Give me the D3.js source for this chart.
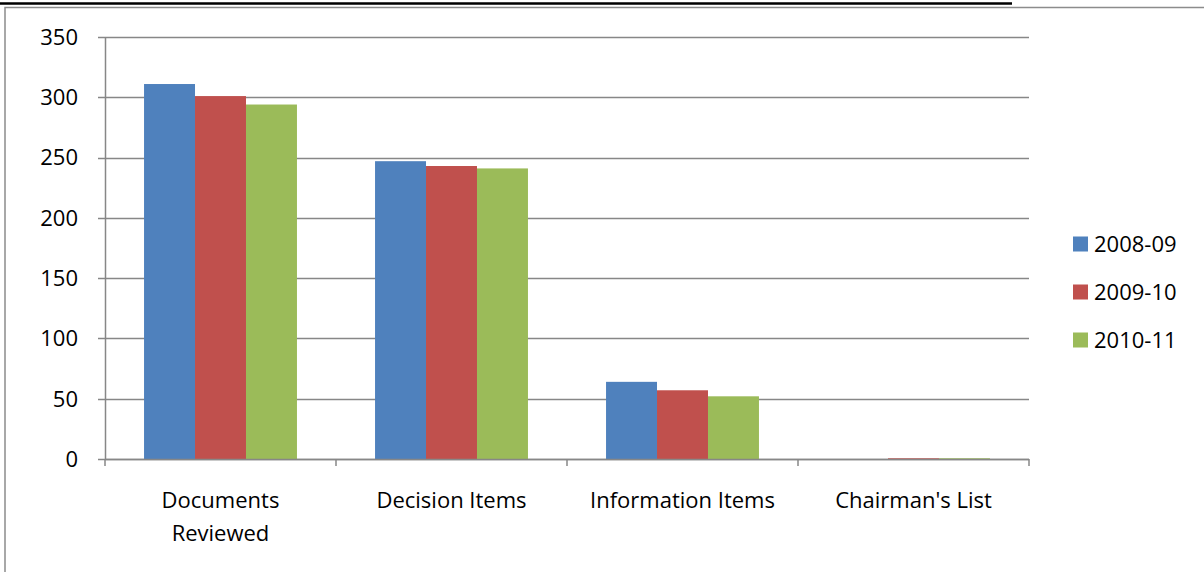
<!DOCTYPE html>
<html>
<head>
<meta charset="utf-8">
<script src="https://cdn.jsdelivr.net/npm/d3@7"></script>
<style>
  body { margin: 0; background: #fff; }
  svg { display: block; font-family: "Open Sans", Lato, sans-serif; }
</style>
</head>
<body>
<svg id="chart" width="1204" height="572"></svg>
<script>
    var categories = [["Documents", "Reviewed"], ["Decision Items"], ["Information Items"], ["Chairman's List"]];
    var seriesNames = ["2008-09", "2009-10", "2010-11"];
    var values2008 = [311, 247, 64, 0];
    var values2009 = [301, 243, 57, 0.6];
    var values2010 = [294, 241, 52, 0.6];
    var yTicks = [0, 50, 100, 150, 200, 250, 300, 350];
    var colors = ["#4f81bd", "#c0504d", "#9bbb59"];

    var svg = d3.select("#chart"),
        series = [values2008, values2009, values2010],
        plotLeft = 105, plotRight = 1029, plotTop = 37, plotBottom = 459;

    // page furniture: rule from the text above and the chart frame
    svg.append("line").attr("x1", 0).attr("x2", 1012).attr("y1", 3.5).attr("y2", 3.5)
        .attr("stroke", "#000").attr("stroke-width", 2.5);
    svg.append("rect").attr("x", 5).attr("y", 7.5).attr("width", 1300).attr("height", 700)
        .attr("fill", "none").attr("stroke", "#8c8c8c").attr("stroke-width", 1.5);

    var y = d3.scaleLinear().domain([0, 350]).range([plotBottom, plotTop]);
    var x0 = d3.scaleBand().domain(d3.range(categories.length)).range([plotLeft, plotRight])
        .paddingInner(0.338).paddingOuter(0.169);
    var x1 = d3.scaleBand().domain(d3.range(series.length)).range([0, x0.bandwidth()]);

    // gridlines
    svg.append("g").selectAll("line").data(yTicks).enter().append("line")
        .attr("x1", plotLeft - 7).attr("x2", plotRight)
        .attr("y1", function (d) { return Math.round(y(d)) + 0.5; })
        .attr("y2", function (d) { return Math.round(y(d)) + 0.5; })
        .attr("stroke", "#878787").attr("stroke-width", 1.5);

    // bars
    var groups = svg.append("g").selectAll("g").data(categories).enter().append("g")
        .attr("transform", function (d, i) { return "translate(" + x0(i) + ",0)"; });
    groups.selectAll("rect")
        .data(function (d, i) { return series.map(function (s, k) { return {k: k, v: s[i]}; }); })
        .enter().append("rect")
        .attr("x", function (d) { return x1(d.k); })
        .attr("width", x1.bandwidth())
        .attr("y", function (d) { return y(d.v); })
        .attr("height", function (d) { return plotBottom - y(d.v); })
        .attr("fill", function (d) { return colors[d.k]; });

    // y axis line
    svg.append("line").attr("x1", plotLeft + 0.5).attr("x2", plotLeft + 0.5)
        .attr("y1", plotTop).attr("y2", plotBottom)
        .attr("stroke", "#878787").attr("stroke-width", 1.5);
    // x axis line + ticks between categories
    svg.append("line").attr("x1", plotLeft).attr("x2", plotRight)
        .attr("y1", plotBottom + 0.5).attr("y2", plotBottom + 0.5)
        .attr("stroke", "#878787").attr("stroke-width", 1.5);
    var step = x0.step();
    svg.append("g").selectAll("line").data(d3.range(categories.length + 1)).enter().append("line")
        .attr("x1", function (d) { return plotLeft + d * step; })
        .attr("x2", function (d) { return plotLeft + d * step; })
        .attr("y1", plotBottom).attr("y2", plotBottom + 7)
        .attr("stroke", "#878787").attr("stroke-width", 1.5);

    // y labels
    svg.append("g").selectAll("text").data(yTicks).enter().append("text")
        .attr("x", 78).attr("y", function (d) { return y(d); })
        .attr("dy", "0.36em").attr("text-anchor", "end")
        .attr("font-size", 22).attr("fill", "#000")
        .text(function (d) { return d; });

    // category labels
    var cat = svg.append("g").selectAll("text").data(categories).enter().append("text")
        .attr("text-anchor", "middle").attr("font-size", 22).attr("fill", "#000")
        .attr("x", function (d, i) { return x0(i) + x0.bandwidth() / 2; })
        .attr("y", 508);
    cat.selectAll("tspan").data(function (d) { return d; }).enter().append("tspan")
        .attr("x", function () { return d3.select(this.parentNode).attr("x"); })
        .attr("dy", function (d, i) { return i === 0 ? 0 : 33; })
        .text(function (d) { return d; });

    // legend
    var legend = svg.append("g").selectAll("g").data(seriesNames).enter().append("g")
        .attr("transform", function (d, i) { return "translate(1073," + (244 + i * 48) + ")"; });
    legend.append("rect").attr("x", 0).attr("y", -7.5).attr("width", 15).attr("height", 15)
        .attr("fill", function (d, i) { return colors[i]; });
    legend.append("text").attr("x", 21).attr("dy", "0.36em").attr("font-size", 22).attr("fill", "#000")
        .text(function (d) { return d; });
</script>
</body>
</html>
